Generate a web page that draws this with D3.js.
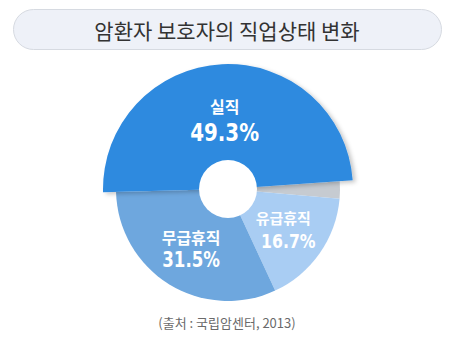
<!DOCTYPE html>
<html>
<head>
<meta charset="utf-8">
<script src="https://cdn.jsdelivr.net/npm/d3@7"></script>
<style>
  html, body { margin: 0; padding: 0; background: #fff; }
  svg { display: block; }
  .kr { font-family: "Noto Sans CJK KR", "Noto Sans", sans-serif; }
  .num { font-family: "DejaVu Sans Condensed", "DejaVu Sans", sans-serif; font-stretch: condensed; font-weight: bold; }
</style>
</head>
<body>
<script>
const title = "암환자 보호자의 직업상태 변화";
const source = "(출처 : 국립암센터, 2013)";
const categories = ["실직", "기타", "유급휴직", "무급휴직"];
const values = [49.3, 2.5, 16.7, 31.5];
const valueLabels = ["49.3%", "", "16.7%", "31.5%"];
const colors = ["#2f8adf", "#c6cbd1", "#a9cdf3", "#6ea7de"];
const showLabel = [true, false, true, true];

const W = 460, H = 363;
const cx = 228, cy = 189;
const R = 112, Rx = 125, holeR = 29;

const svg = d3.select("body").append("svg").attr("width", W).attr("height", H);

const defs = svg.append("defs");
const f = defs.append("filter").attr("id", "sh").attr("x", "-20%").attr("y", "-20%").attr("width", "140%").attr("height", "140%");
f.append("feDropShadow").attr("dx", 3).attr("dy", 2).attr("stdDeviation", 2)
  .attr("flood-color", "#000").attr("flood-opacity", 0.22);

// title pill
svg.append("rect").attr("x", 13.5).attr("y", 9.5).attr("width", 428).attr("height", 40)
  .attr("rx", 20).attr("fill", "#eef1f8").attr("stroke", "#d6dae1");
svg.append("text").attr("class", "kr").attr("x", 227).attr("y", 29.5)
  .attr("text-anchor", "middle").attr("dominant-baseline", "central")
  .attr("font-size", 21).attr("fill", "#333").text(title);

const data = categories.map((c, i) => ({ c, v: values[i], i }));
const start = -91.5 * Math.PI / 180;
const pie = d3.pie().sort(null).value(d => d.v).startAngle(start).endAngle(start + 2 * Math.PI);
const arcs = pie(data);

const g = svg.append("g").attr("transform", `translate(${cx},${cy})`);
const arcBase = d3.arc().innerRadius(0).outerRadius(R);
const arcBig = d3.arc().innerRadius(0).outerRadius(Rx);

g.selectAll("path.base").data(arcs.filter(a => a.data.i !== 0)).join("path")
  .attr("class", "base").attr("d", arcBase).attr("fill", a => colors[a.data.i]);
g.selectAll("path.big").data(arcs.filter(a => a.data.i === 0)).join("path")
  .attr("class", "big").attr("d", arcBig).attr("fill", a => colors[a.data.i])
  .attr("filter", "url(#sh)");

g.append("circle").attr("r", holeR).attr("fill", "#fff");

const labelArc = d3.arc().innerRadius(70).outerRadius(70);
const nameSize = [16, 0, 15, 16];
const valSize = [24, 0, 19, 21];
const valScale = [0.92, 0, 0.92, 0.88];
const gap = [13.5, 0, 12, 11.5];
arcs.filter(a => showLabel[a.data.i]).forEach(a => {
  const [x, y] = labelArc.centroid(a);
  const i = a.data.i;
  g.append("text").attr("class", "kr").attr("x", x - (i === 2 ? 2 : 0)).attr("y", y - gap[i])
    .attr("text-anchor", "middle").attr("dominant-baseline", "central")
    .attr("font-size", nameSize[i]).attr("font-weight", "bold").attr("fill", "#fff")
    .text(a.data.c);
  g.append("text").attr("class", "num")
    .attr("transform", `translate(${x + (i === 2 ? 3 : 0)},${y + gap[i]}) scale(${valScale[i]},1)`)
    .attr("text-anchor", "middle").attr("dominant-baseline", "central")
    .attr("font-size", valSize[i]).attr("fill", "#fff")
    .text(valueLabels[i]);
});

svg.append("text").attr("class", "kr").attr("x", 227).attr("y", 322.5)
  .attr("text-anchor", "middle").attr("dominant-baseline", "central")
  .attr("font-size", 13).attr("fill", "#6a6a6a").text(source);
</script>
</body>
</html>
